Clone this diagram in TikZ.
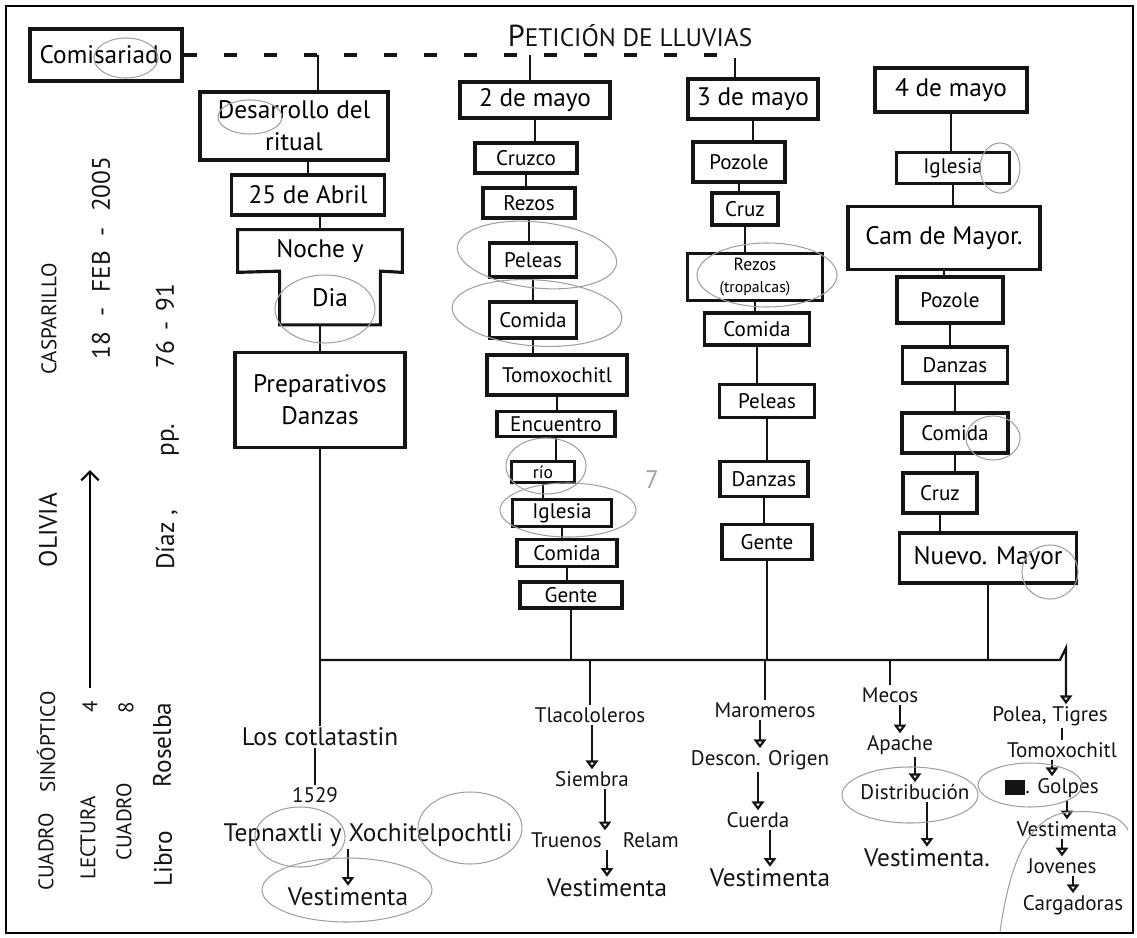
\documentclass[tikz,border=0pt]{standalone}
\usepackage{fontspec}
\setmainfont{PT Sans}
\usetikzlibrary{arrows.meta, positioning, calc}
\definecolor{ink}{HTML}{141414}
\definecolor{pencil}{HTML}{A0A0A0}

\begin{document}
\begin{tikzpicture}[
    x=0.2mm, y=-0.2mm,
    box/.style={draw=ink, line width=1.8pt, inner sep=1pt, align=center, font=\large},
    link/.style={draw=ink, line width=1.6pt},
    flow/.style={-{Triangle[open, length=5pt, width=7pt]}, draw=ink, line width=1.3pt},
    lbl/.style={font=\large, inner sep=1pt, text=ink},
    sidetext/.style={rotate=90, font=\large, inner sep=0pt, text=ink},
    pencilmark/.style={draw=pencil, line width=0.6pt},
]
\useasboundingbox (0,0) rectangle (1137,938);
\draw[line width=1.2pt] (6,6) rectangle (1133,933);

% cabecera
\node[box, font=\Large, minimum width=30.4mm, minimum height=10.4mm] (comis) at (106,55) {Comisariado};
\node[lbl, font=\Large] (title) at (630,36) {{\LARGE P}ETICIÓN DE LLUVIAS};
\coordinate (dend) at (722,57);
\draw[link, line width=2pt, dash pattern=on 2.6mm off 5.4mm] (comis.east) -- (comis.east -| dend);
\coordinate (d1) at (318,55);
\coordinate (d2) at (530,55);
\coordinate (d3) at (735,58);

% textos laterales
\node[sidetext] (s1a) at (46,852) {CUADRO};
\node[sidetext] (s1b) at (46,742) {SINÓPTICO};
\node[sidetext, font=\Large] (s1c) at (48,530) {OLIVIA};
\node[sidetext] (s1d) at (49,319) {CASPARILLO};
\node[sidetext] (s2a) at (88,838) {LECTURA};
\node[sidetext] (s2b) at (90,707) {4};
\coordinate (s2c) at (90,688);
\coordinate (s2d) at (90,470);
\draw[-{Straight Barb[length=5pt]}, line width=1.3pt] (s2c) -- (s2d);
\node[sidetext, font=\Large] (s2e) at (101,258) {18\hspace{3mm}-\hspace{3mm}FEB\hspace{3mm}-\hspace{3mm}2005};
\node[sidetext] (s3a) at (124,822) {CUADRO};
\node[sidetext] (s3b) at (126,708) {8};
\node[sidetext, font=\Large] (s4a) at (163,859) {Libro};
\node[sidetext, font=\Large] (s4b) at (162,745) {Roselba};
\node[sidetext, font=\Large] (s4c) at (167,540) {Díaz ,};
\node[sidetext, font=\Large] (s4d) at (170,440) {pp.};
\node[sidetext, font=\Large] (s4e) at (165,326) {76\hspace{2mm}-\hspace{2mm}91};

% columna 1
\node[box, font=\Large, minimum width=37.6mm, minimum height=13.6mm] (des) at (294,126) {Desarrollo del\\ritual};
\node[box, font=\Large, minimum width=30.6mm, minimum height=8mm] (abr) at (308,195) {25 de Abril};
\node[font=\Large, inner sep=1pt, minimum width=32.8mm, minimum height=8.4mm] (noc) at (320,251) {Noche y};
\node[font=\Large, inner sep=1pt, minimum width=20mm, minimum height=10.6mm] (dia) at (330,298) {Dia};
\draw[link, line width=1.8pt] (noc.north west) -- (noc.north east) -- (noc.south east) -- (dia.north east)
    -- (dia.south east) -- (dia.south west) -- (dia.north west) -- (noc.south west) -- cycle;
\node[box, font=\Large, minimum width=34mm, minimum height=19mm] (pre) at (320,400) {Preparativos\\Danzas};

% columna 2
\node[box, font=\Large, minimum width=30mm, minimum height=7.2mm] (m2) at (535,100) {2 de mayo};
\node[box, minimum width=20.4mm, minimum height=6mm] (cru) at (526,158) {Cruzco};
\node[box, minimum width=18.4mm, minimum height=6mm] (rez2) at (529,203) {Rezos};
\node[box, minimum width=17.4mm, minimum height=6.8mm] (pel2) at (533,260) {Peleas};
\node[box, minimum width=17.4mm, minimum height=7.2mm] (com2) at (533,320) {Comida};
\node[box, minimum width=28mm, minimum height=8mm] (tom) at (557,375) {Tomoxochitl};
\node[box, minimum width=23.6mm, minimum height=5mm] (enc) at (556,424) {Encuentro};
\node[box, font=\normalsize, minimum width=12.6mm, minimum height=4.2mm] (rio) at (543,472) {río};
\node[box, minimum width=19.8mm, minimum height=5.4mm] (igl2) at (562,513) {Iglesia};
\node[box, minimum width=20mm, minimum height=5.4mm] (com2b) at (567,553) {Comida};
\node[box, minimum width=20.4mm, minimum height=5.2mm] (gen2) at (571,595) {Gente};

% columna 3
\node[box, font=\Large, minimum width=26mm, minimum height=8mm] (m3) at (753,99) {3 de mayo};
\node[box, minimum width=18.4mm, minimum height=8mm] (poz3) at (739,162) {Pozole};
\node[box, minimum width=13.2mm, minimum height=6.4mm] (cruz3) at (745,209) {Cruz};
\node[box, font=\normalsize, minimum width=27mm, minimum height=9.4mm] (rez3) at (755,277) {Rezos\\{\small (tropalcas)}};
\node[box, minimum width=21mm, minimum height=6.4mm] (com3) at (757,329) {Comida};
\node[box, minimum width=19mm, minimum height=6.6mm] (pel3) at (767,401) {Peleas};
\node[box, minimum width=17.6mm, minimum height=7mm] (dan3) at (764,479) {Danzas};
\node[box, minimum width=18mm, minimum height=7mm] (gen3) at (767,542) {Gente};

% columna 4
\node[box, font=\Large, minimum width=30.4mm, minimum height=8.8mm] (m4) at (951,90) {4 de mayo};
\node[box, minimum width=22.6mm, minimum height=6.2mm] (igl4) at (953,168) {Iglesia};
\node[box, font=\Large, minimum width=38.4mm, minimum height=12.6mm] (cam) at (944,238) {Cam de Mayor.};
\node[box, minimum width=21.2mm, minimum height=9.2mm] (poz4) at (950,300) {Pozole};
\node[box, minimum width=21mm, minimum height=7.2mm] (dan4) at (955,365) {Danzas};
\node[box, minimum width=21.2mm, minimum height=8mm] (com4) at (955,433) {Comida};
\node[box, minimum width=14.8mm, minimum height=8mm] (cruz4) at (940,493) {Cruz};
\node[box, font=\Large, minimum width=35.4mm, minimum height=10mm] (nue) at (988,558) {Nuevo. Mayor};

% ramas de abajo
\node[lbl, font=\Large] (cot) at (320,737) {Los cotlatastin};
\node[lbl] (yr) at (315,795) {1529};
\node[lbl, font=\Large] (tep) at (368,835) {Tepnaxtli y Xochitelpochtli};
\node[lbl, font=\Large] (ves1) at (348,897) {Vestimenta};
\node[lbl] (tla) at (590,715) {Tlacololeros};
\node[lbl] (sie) at (592,779) {Siembra};
\node[lbl] (tru) at (605,840) {Truenos\quad Relam};
\node[lbl, font=\Large] (ves2) at (607,888) {Vestimenta};
\node[lbl] (mar) at (765,710) {Maromeros};
\node[lbl] (des3) at (760,760) {Descon. Origen};
\node[lbl] (cue) at (758,820) {Cuerda};
\node[lbl, font=\Large] (ves3) at (770,878) {Vestimenta};
\node[lbl] (mec) at (890,695) {Mecos};
\node[lbl] (apa) at (900,745) {Apache};
\node[lbl] (dis) at (915,792) {Distribución};
\node[lbl, font=\Large] (ves4) at (927,858) {Vestimenta.};
\node[lbl] (pol) at (1050,716) {Polea, Tigres};
\node[lbl] (tmx) at (1062,750) {Tomoxochitl};
\node[lbl] (gol) at (1052,788) {{\color{ink}\rule[-0.3mm]{4mm}{3mm}}. Golpes};
\node[lbl] (ves5) at (1067,829) {Vestimenta};
\node[lbl] (jov) at (1062,866) {Jovenes};
\node[lbl] (car) at (1073,905) {Cargadoras};

% uniones
\foreach \t/\b in {d1/des, d2/m2, d3/m3}
    \draw[link] (\t) -- (\t |- \b.north);
\foreach \a/\b in {des/abr, abr/noc, dia/pre}
    \draw[link] (\b.north |- \a.south) -- (\b.north);
\foreach \a/\b in {m2/cru, cru/rez2, rez2/pel2, pel2/com2, com2/tom, tom/enc, enc/rio, rio/igl2, igl2/com2b, com2b/gen2,
                   m3/poz3, poz3/cruz3, cruz3/rez3, rez3/com3, com3/pel3, pel3/dan3, dan3/gen3,
                   m4/igl4, igl4/cam, cam/poz4, poz4/dan4, dan4/com4, com4/cruz4, cruz4/nue}
    \draw[link] (\a.south) -- (\a.south |- \b.north);

\coordinate (jl) at (320,660);
\coordinate (jr) at (1060,660);
\coordinate (jk) at (1066,648);
\draw[link] (pre.south) -- (cot.north);
\draw[flow] (jl) -- (jr) -- (jk) -- (jk |- pol.north);
\foreach \n in {gen2, gen3, nue}
    \draw[link] (\n.south) -- (\n.south |- jl);
\foreach \n in {tla, mar, mec}
    \draw[link] (\n.north |- jl) -- (\n.north);
\draw[link] (cot.south -| yr.north) -- (yr.north);
\draw[link] (pol.south -| tmx.north) -- (tmx.north);
\foreach \a/\b in {tep/ves1, tla/sie, sie/tru, tru/ves2, mar/des3, des3/cue, cue/ves3,
                   mec/apa, apa/dis, dis/ves4, tmx/gol, gol/ves5, ves5/jov, jov/car}
    \draw[flow] (\b.north |- \a.south) -- (\b.north);

% marcas de lapiz
\draw[pencilmark] (126,58) ellipse (6.4mm and 4mm);
\draw[pencilmark] (250,117) ellipse (6.4mm and 3.4mm);
\draw[pencilmark] (325,309) ellipse (10mm and 6.8mm);
\draw[pencilmark, rotate around={-6:(537,255)}] (537,255) ellipse (16mm and 6.6mm);
\draw[pencilmark, rotate around={-4:(537,313)}] (537,313) ellipse (17mm and 6.6mm);
\draw[pencilmark] (546,466) ellipse (8mm and 5.6mm);
\draw[pencilmark] (568,510) ellipse (13.6mm and 5.4mm);
\draw[pencilmark] (767,275) ellipse (14mm and 6.4mm);
\draw[pencilmark] (1000,168) ellipse (4mm and 5mm);
\draw[pencilmark] (993,438) ellipse (5.4mm and 4.4mm);
\draw[pencilmark] (1050,572) ellipse (5.6mm and 5.4mm);
\draw[pencilmark] (300,837) ellipse (9mm and 6mm);
\draw[pencilmark] (470,828) ellipse (10.4mm and 7.2mm);
\draw[pencilmark] (347,890) ellipse (17mm and 6.4mm);
\draw[pencilmark] (910,795) ellipse (13.6mm and 5.6mm);
\draw[pencilmark] (1030,785) ellipse (10.4mm and 4.4mm);
\draw[pencilmark] (1000,932) .. controls (1010,860) and (1030,815) .. (1070,812)
    .. controls (1100,810) and (1120,815) .. (1128,830);
\node[text=pencil, font=\Large] (seven) at (652,480) {7};
\end{tikzpicture}
\end{document}
